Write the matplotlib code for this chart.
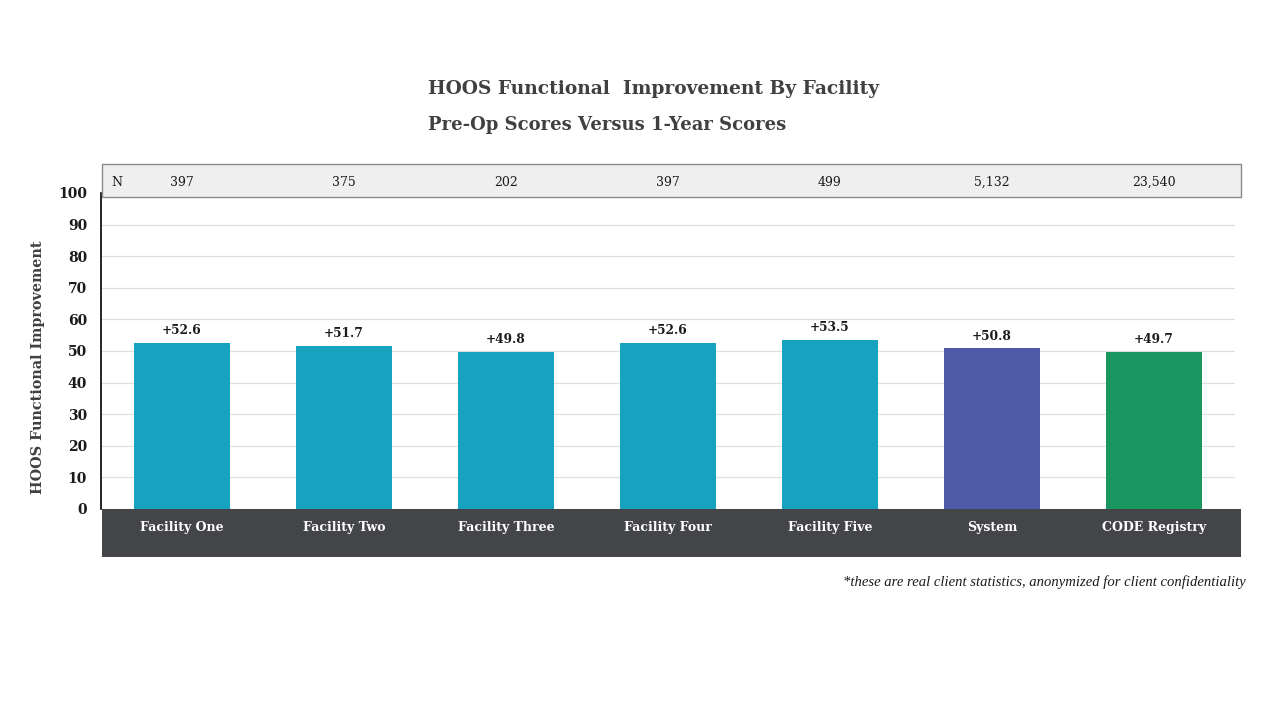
import matplotlib.pyplot as plt
from matplotlib.patches import Rectangle
from matplotlib.transforms import blended_transform_factory

categories = ["Facility One", "Facility Two", "Facility Three", "Facility Four",
              "Facility Five", "System", "CODE Registry"]
improvement = [52.6, 51.7, 49.8, 52.6, 53.5, 50.8, 49.7]
n_counts = ["397", "375", "202", "397", "499", "5,132", "23,540"]
bar_colors = ["#17a2c0"] * 5 + ["#4f5aa8", "#1a9660"]

plt.rcParams['font.family'] = ['DejaVu Serif']

W, H = 1280, 720
fig = plt.figure(figsize=(12.8, 7.2), dpi=100)

def fx(px):
    return px / W

def fy(py):
    return 1 - py / H

ax = fig.add_axes([fx(101), fy(509), fx(1235) - fx(101), fy(193) - fy(509)])

x = list(range(len(categories)))
ax.bar(x, improvement, width=0.59, color=bar_colors, zorder=3)
for xi, v in zip(x, improvement):
    ax.text(xi, v + 1.8, f"+{v}", ha='center', va='bottom', fontsize=8.8,
            fontweight='bold', color='#1a1a1a')

ax.set_xlim(-0.5, len(categories) - 0.5)
ax.set_ylim(0, 100)
ax.set_yticks(range(0, 101, 10))
ax.yaxis.grid(True, color='#e0e0e0', linewidth=0.9, zorder=0)
ax.set_xticks([])
for s in ['top', 'right', 'bottom']:
    ax.spines[s].set_visible(False)
ax.spines['left'].set_color('#000000')
ax.spines['left'].set_linewidth(1.2)
ax.tick_params(axis='y', length=0, pad=10, labelsize=10, labelcolor='#1a1a1a')
for lbl in ax.get_yticklabels():
    lbl.set_fontweight('bold')
ax.set_ylabel("HOOS Functional Improvement", fontsize=10.4, fontweight='bold',
              color='#404040')
ax.yaxis.set_label_coords(-0.049, 0.45)

# N header band
fig.patches.append(Rectangle((fx(102), fy(197)), fx(1241) - fx(102), fy(164) - fy(197),
                             transform=fig.transFigure, facecolor='#efefef',
                             edgecolor='#8a8a8a', linewidth=1.0, zorder=5))
fig.text(fx(111), fy(182), "N", ha='left', va='center', fontsize=9,
         color='#1a1a1a', zorder=7)
trans = blended_transform_factory(ax.transData, fig.transFigure)
for xi, n in zip(x, n_counts):
    fig.text(xi, fy(182), n, transform=trans, ha='center', va='center',
             fontsize=9, color='#1a1a1a', zorder=7)

# category band
fig.patches.append(Rectangle((fx(102), fy(557)), fx(1241) - fx(102), fy(509) - fy(557),
                             transform=fig.transFigure, facecolor='#444548',
                             edgecolor='none', zorder=5))
for xi, c in zip(x, categories):
    fig.text(xi, fy(528), c, transform=trans, ha='center', va='center',
             fontsize=9, fontweight='bold', color='white', zorder=7)

fig.text(fx(428), fy(89), "HOOS Functional  Improvement By Facility", ha='left', va='center',
         fontsize=13.4, fontweight='bold', color='#404040')
fig.text(fx(428), fy(125), "Pre-Op Scores Versus 1-Year Scores", ha='left', va='center',
         fontsize=13, fontweight='bold', color='#404040')
fig.text(fx(1246), fy(582), "*these are real client statistics, anonymized for client confidentiality",
         ha='right', va='center', fontsize=10.5, style='italic', color='#1a1a1a',
         family='Liberation Serif')

fig.savefig("out.png", dpi=100)
